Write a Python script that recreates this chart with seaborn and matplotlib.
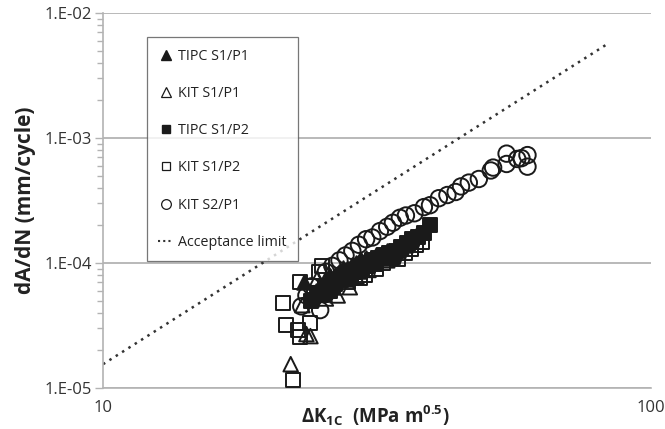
import matplotlib
matplotlib.use("Agg")
import matplotlib.pyplot as plt
import seaborn as sns
import pandas as pd
from matplotlib.lines import Line2D
from matplotlib.ticker import LogLocator, NullFormatter, FixedLocator, FixedFormatter

# ---- data ----
tipc_s1p1_x = [23.3, 24.0, 24.5, 25.0, 25.3, 25.6, 26.0, 26.3, 26.5, 27.0, 27.4, 27.8, 28.0, 28.5, 29.0, 29.3, 29.6, 30.2, 30.8, 31.5, 32.2, 33.0, 33.8, 34.5, 35.5, 36.5]
tipc_s1p1_y = [7.0e-5, 5.2e-5, 6.0e-5, 6.5e-5, 5.6e-5, 7.2e-5, 7.8e-5, 6.4e-5, 8.0e-5, 8.5e-5, 9.2e-5, 7.4e-5, 9.0e-5, 9.6e-5, 1.0e-4, 8.6e-5, 1.05e-4, 1.1e-4, 1.02e-4, 1.15e-4, 1.1e-4, 1.25e-4, 1.18e-4, 1.28e-4, 1.4e-4, 1.5e-4]

kit_s1p1_x = [22.0, 23.1, 23.5, 23.9, 24.2, 24.6, 25.0, 25.5, 25.8, 26.2, 26.8, 27.5, 28.2, 28.6, 29.0, 29.8, 30.5, 31.3, 32.0, 33.0, 34.0, 35.0, 36.0, 37.5]
kit_s1p1_y = [1.55e-5, 4.6e-5, 2.7e-5, 2.6e-5, 5.5e-5, 7.5e-5, 6.0e-5, 5.2e-5, 8.2e-5, 7.0e-5, 5.5e-5, 8.0e-5, 6.4e-5, 9.0e-5, 7.8e-5, 9.5e-5, 8.8e-5, 1.0e-4, 1.12e-4, 1.05e-4, 1.2e-4, 1.32e-4, 1.45e-4, 1.7e-4]

tipc_s1p2_x = [24.0, 24.6, 25.0, 25.4, 25.8, 26.2, 26.5, 27.2, 27.6, 28.0, 28.4, 28.8, 29.5, 30.0, 30.3, 31.0, 31.4, 31.8, 32.5, 33.3, 33.8, 34.2, 35.0, 35.8, 36.6, 37.5, 38.5, 39.5]
tipc_s1p2_y = [5.0e-5, 5.8e-5, 5.5e-5, 6.4e-5, 6.0e-5, 7.0e-5, 6.8e-5, 7.3e-5, 8.2e-5, 8.0e-5, 7.6e-5, 8.5e-5, 9.0e-5, 9.6e-5, 1.0e-4, 1.05e-4, 9.8e-5, 1.1e-4, 1.15e-4, 1.2e-4, 1.12e-4, 1.25e-4, 1.35e-4, 1.45e-4, 1.55e-4, 1.6e-4, 1.75e-4, 2.0e-4]

kit_s1p2_x = [22.2, 21.3, 21.6, 22.7, 22.9, 23.9, 22.9, 25.1, 24.3, 24.8, 26.0, 27.0, 28.0, 28.8, 29.4, 30.1, 30.5, 31.5, 32.4, 33.5, 34.5, 35.5, 36.5, 37.2, 38.2]
kit_s1p2_y = [1.15e-5, 4.8e-5, 3.2e-5, 2.9e-5, 2.55e-5, 3.3e-5, 7.0e-5, 9.5e-5, 6.5e-5, 8.5e-5, 6.0e-5, 7.5e-5, 7.0e-5, 8.5e-5, 7.6e-5, 8.0e-5, 9.5e-5, 9.0e-5, 1.0e-4, 1.1e-4, 1.08e-4, 1.2e-4, 1.3e-4, 1.4e-4, 1.47e-4]

kit_s2p1_x = [59.5, 59.5, 58.0, 57.0, 54.5, 54.5, 51.5, 51.0, 48.5, 46.5, 45.0, 44.0, 42.5, 41.0, 39.5, 38.5, 37.0, 35.7, 34.8, 33.8, 33.0, 32.0, 31.0, 30.2, 29.3, 28.5, 27.7, 27.0, 26.2, 25.5, 24.9, 24.0, 23.5, 23.0]
kit_s2p1_y = [7.3e-4, 5.9e-4, 6.9e-4, 6.8e-4, 7.5e-4, 6.2e-4, 5.8e-4, 5.5e-4, 4.7e-4, 4.4e-4, 4.1e-4, 3.7e-4, 3.5e-4, 3.3e-4, 2.9e-4, 2.8e-4, 2.5e-4, 2.4e-4, 2.3e-4, 2.1e-4, 1.95e-4, 1.8e-4, 1.6e-4, 1.55e-4, 1.4e-4, 1.25e-4, 1.15e-4, 1.05e-4, 9.5e-5, 8.5e-5, 4.2e-5, 6.5e-5, 5.5e-5, 4.5e-5]

limit_x = [10, 84]
limit_y = [1.55e-5, 5.8e-3]

series_labels = ["TIPC S1/P1", "KIT S1/P1", "TIPC S1/P2", "KIT S1/P2", "KIT S2/P1", "Acceptance limit"]
x_tick_values = [10, 100]
x_tick_labels = ["10", "100"]
y_tick_values = [1e-5, 1e-4, 1e-3, 1e-2]
y_tick_labels = ["1.E-05", "1.E-04", "1.E-03", "1.E-02"]

# ---- plot ----
sns.set_theme(style="white")
plt.rcParams['font.family'] = ['Open Sans', 'DejaVu Sans']

fig = plt.figure(figsize=(6.65, 4.29), dpi=100)
ax = fig.add_axes([0.155, 0.0956, 0.824, 0.874])
ax.set_xscale("log")
ax.set_yscale("log")

grey = "#b3b3b3"
ink = "#1a1a1a"

sns.lineplot(x=limit_x, y=limit_y, ax=ax, color="#333333", linestyle=(0, (1, 2.0)), linewidth=1.8, zorder=2)

specs = [
    (tipc_s1p1_x, tipc_s1p1_y, "^", ink, 110),
    (kit_s1p1_x, kit_s1p1_y, "^", "none", 110),
    (tipc_s1p2_x, tipc_s1p2_y, "s", ink, 100),
    (kit_s1p2_x, kit_s1p2_y, "s", "none", 100),
    (kit_s2p1_x, kit_s2p1_y, "o", "none", 140),
]
for xs, ys, m, fc, s in specs:
    df = pd.DataFrame({"x": xs, "y": ys})
    sns.scatterplot(data=df, x="x", y="y", ax=ax, marker=m, s=s,
                    facecolors=fc, edgecolor=ink, linewidth=1.4, zorder=3)

ax.set_xlim(10, 100)
ax.set_ylim(1e-5, 1e-2)

ax.yaxis.grid(True, which="major", color=grey, linewidth=1.3)
ax.xaxis.grid(False)
for side in ["top", "right"]:
    ax.spines[side].set_visible(False)
for side in ["left", "bottom"]:
    ax.spines[side].set_color(grey)
    ax.spines[side].set_linewidth(1.2)

ax.xaxis.set_major_locator(FixedLocator(x_tick_values))
ax.xaxis.set_major_formatter(FixedFormatter(x_tick_labels))
ax.xaxis.set_minor_locator(LogLocator(base=10, subs=range(2, 10)))
ax.xaxis.set_minor_formatter(NullFormatter())
ax.tick_params(axis="x", which="major", length=0, pad=9, labelsize=12, labelcolor="#333333")
ax.tick_params(axis="x", which="minor", direction="in", length=5, width=1, color=grey)

ax.yaxis.set_major_locator(FixedLocator(y_tick_values))
ax.yaxis.set_major_formatter(FixedFormatter(y_tick_labels))
ax.yaxis.set_minor_locator(LogLocator(base=10, subs=range(2, 10)))
ax.yaxis.set_minor_formatter(NullFormatter())
ax.tick_params(axis="y", which="major", direction="out", length=6, width=1, color=grey,
               labelsize=12, labelcolor="#333333", pad=2, left=True)
ax.tick_params(axis="y", which="minor", direction="out", length=4, width=1, color=grey, left=True)

ax.set_xlabel(r"ΔK$_{\mathregular{1C}}$  (MPa m$^{\mathregular{0.5}}$)", fontsize=13.5, fontweight="bold",
              color="#222222")
ax.xaxis.set_label_coords(0.497, -0.04)
ax.set_ylabel("dA/dN (mm/cycle)", fontsize=15, fontweight="bold", color="#222222", labelpad=6)

handles = [
    Line2D([], [], marker="^", linestyle="none", markerfacecolor=ink, markeredgecolor=ink, markersize=7),
    Line2D([], [], marker="^", linestyle="none", markerfacecolor="none", markeredgecolor=ink, markersize=7, markeredgewidth=0.9),
    Line2D([], [], marker="s", linestyle="none", markerfacecolor=ink, markeredgecolor=ink, markersize=6),
    Line2D([], [], marker="s", linestyle="none", markerfacecolor="none", markeredgecolor=ink, markersize=6, markeredgewidth=0.9),
    Line2D([], [], marker="o", linestyle="none", markerfacecolor="none", markeredgecolor=ink, markersize=7, markeredgewidth=0.9),
    Line2D([], [], color="#333333", linestyle=(0, (1, 1.5)), linewidth=1.5),
]
leg = ax.legend(handles, series_labels, loc="upper left", bbox_to_anchor=(0.08, 0.935),
                frameon=True, fancybox=False, fontsize=10.3, handlelength=1.0,
                handletextpad=0.4, labelspacing=1.55, borderpad=0.8, borderaxespad=0)
leg.get_frame().set_edgecolor("#555555")
leg.get_frame().set_linewidth(0.9)
for t in leg.get_texts():
    t.set_color("#222222")

fig.savefig("out.png", dpi=100)
